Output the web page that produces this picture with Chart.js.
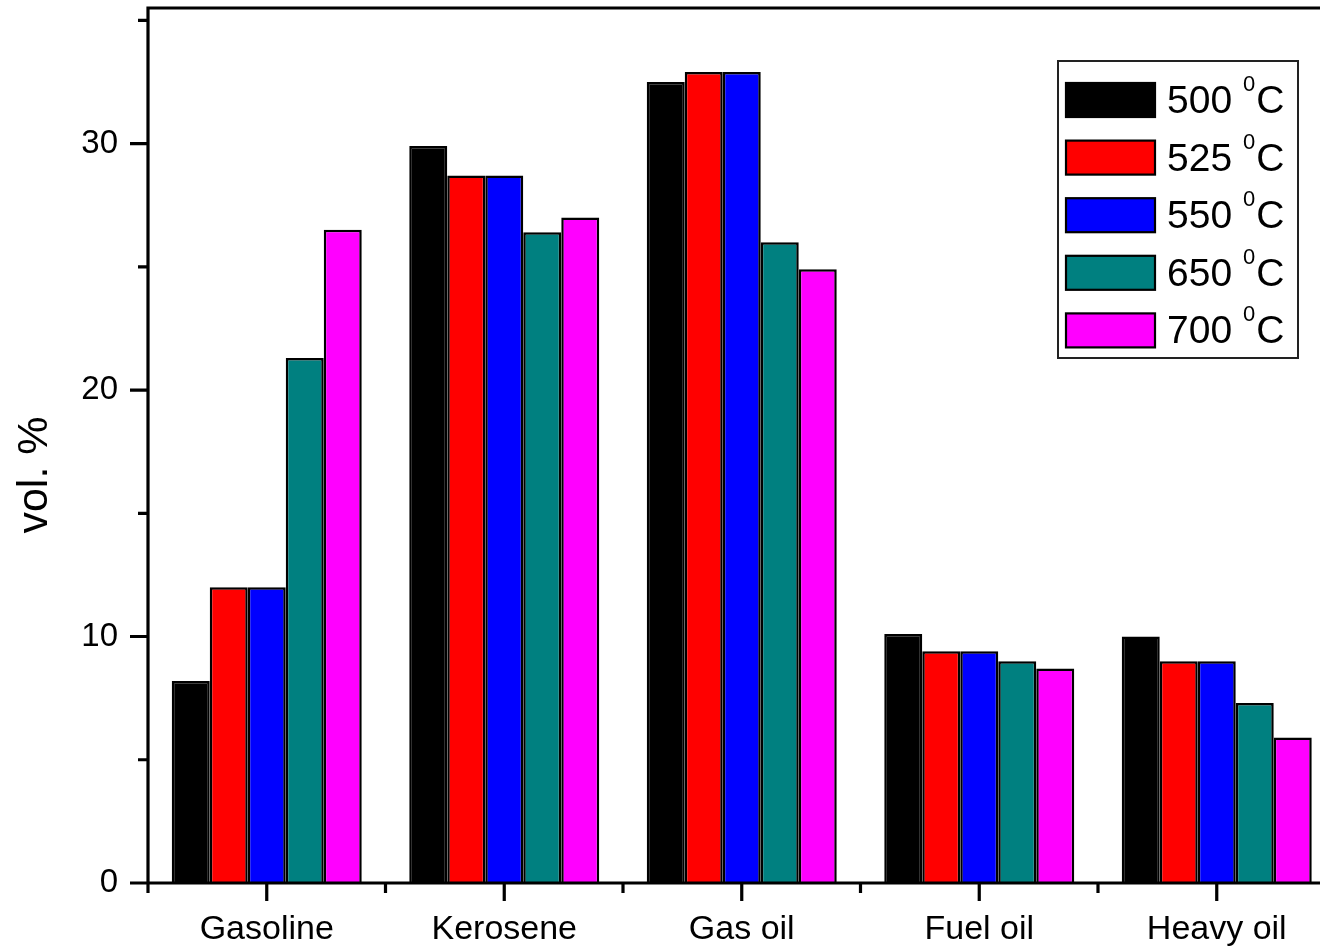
<!DOCTYPE html>
<html>
<head>
<meta charset="utf-8">
<title>vol. %</title>
<script src="https://cdn.jsdelivr.net/npm/chart.js@4.4.1/dist/chart.umd.min.js"></script>
<style>
  html, body { margin: 0; padding: 0; background: #fff; overflow: hidden; }
  #wrap { width: 1340px; height: 952px; }
</style>
</head>
<body>
<div id="wrap"><canvas id="chart" width="1340" height="952"></canvas></div>
<script>
// data
const categories = ["Gasoline", "Kerosene", "Gas oil", "Fuel oil", "Heavy oil"];
const temperatures = [500, 525, 550, 650, 700];
const values500 = [8.2, 29.9, 32.5, 10.1, 10.0];
const values525 = [12.0, 28.7, 32.9, 9.4, 9.0];
const values550 = [12.0, 28.7, 32.9, 9.4, 9.0];
const values650 = [21.3, 26.4, 26.0, 9.0, 7.3];
const values700 = [26.5, 27.0, 24.9, 8.7, 5.9];
const seriesColors = ["#000000", "#ff0000", "#0000ff", "#008080", "#ff00ff"];
const yTicks = [0, 10, 20, 30];
const yMinorTicks = [5, 15, 25, 35];
const yMax = 35.5;
const yTitle = "vol. %";

const FONT = "'Liberation Sans', Arial, Helvetica, sans-serif";
const allValues = [values500, values525, values550, values650, values700];

const datasets = allValues.map((vals, i) => ({
  label: temperatures[i] + " \u00B0C",
  data: vals,
  backgroundColor: seriesColors[i],
  borderColor: "#000",
  borderWidth: 2.5,
  categoryPercentage: 0.8,
  barPercentage: 1.0
}));

// axes, ticks, frame, y title and legend box
const framePlugin = {
  id: "frame",
  afterDraw(chart) {
    const ctx = chart.ctx;
    const area = chart.chartArea;
    const xs = chart.scales.x;
    const ys = chart.scales.y;
    ctx.save();
    ctx.strokeStyle = "#000";
    ctx.lineWidth = 3.2;
    ctx.lineCap = "butt";
    ctx.beginPath();
    ctx.moveTo(area.left - 1.5, area.top);
    ctx.lineTo(chart.width, area.top);
    ctx.moveTo(area.left, area.top - 1.5);
    ctx.lineTo(area.left, area.bottom + 1.5);
    ctx.moveTo(area.left, area.bottom);
    ctx.lineTo(chart.width, area.bottom);
    yTicks.forEach(v => {
      const p = ys.getPixelForValue(v);
      ctx.moveTo(area.left - 18, p);
      ctx.lineTo(area.left, p);
    });
    yMinorTicks.forEach(v => {
      const p = ys.getPixelForValue(v);
      ctx.moveTo(area.left - 10, p);
      ctx.lineTo(area.left, p);
    });
    categories.forEach((c, i) => {
      const p = xs.getPixelForValue(i);
      ctx.moveTo(p, area.bottom);
      ctx.lineTo(p, area.bottom + 18);
    });
    for (let i = 0; i <= categories.length; i++) {
      const p = xs.getPixelForValue(i - 0.5);
      ctx.moveTo(p, area.bottom);
      ctx.lineTo(p, area.bottom + 10);
    }
    ctx.stroke();

    // y axis title
    ctx.save();
    ctx.translate(35, 475);
    ctx.rotate(-Math.PI / 2);
    ctx.fillStyle = "#000";
    ctx.font = "43px " + FONT;
    ctx.textAlign = "center";
    ctx.textBaseline = "middle";
    ctx.fillText(yTitle, 0, 0);
    ctx.restore();

    // legend
    const bx = 1058, by = 61, bw = 240, bh = 297;
    ctx.fillStyle = "#fff";
    ctx.fillRect(bx, by, bw, bh);
    ctx.lineWidth = 2;
    ctx.strokeStyle = "#222";
    ctx.strokeRect(bx, by, bw, bh);
    temperatures.forEach((t, i) => {
      const sy = 83 + i * 57.6;
      ctx.fillStyle = seriesColors[i];
      ctx.fillRect(1066, sy, 89, 34);
      ctx.lineWidth = 2.2;
      ctx.strokeStyle = "#000";
      ctx.strokeRect(1066, sy, 89, 34);
      const base = sy + 30;
      ctx.fillStyle = "#000";
      ctx.textAlign = "left";
      ctx.textBaseline = "alphabetic";
      ctx.font = "39px " + FONT;
      let tx = 1167;
      const main = t + " ";
      ctx.fillText(main, tx, base);
      tx += ctx.measureText(main).width;
      ctx.font = "22px " + FONT;
      ctx.fillText("0", tx, base - 22);
      tx += ctx.measureText("0").width + 1;
      ctx.font = "39px " + FONT;
      ctx.fillText("C", tx, base);
    });
    ctx.restore();
  }
};

new Chart(document.getElementById("chart").getContext("2d"), {
  type: "bar",
  data: { labels: categories, datasets: datasets },
  options: {
    responsive: false,
    animation: false,
    events: [],
    layout: { padding: { top: 8, right: 4.5, left: 0, bottom: 0 } },
    plugins: { legend: { display: false }, tooltip: { enabled: false } },
    scales: {
      x: {
        grid: { display: true, drawOnChartArea: false, drawTicks: true, tickLength: 18, color: "rgba(0,0,0,0)" },
        border: { display: false },
        ticks: { color: "#000", padding: 8, font: { family: FONT, size: 34 }, maxRotation: 0 },
        afterFit(scale) { scale.height = 69; scale.paddingLeft = 0; scale.paddingRight = 0; }
      },
      y: {
        min: 0,
        max: yMax,
        grid: { display: true, drawOnChartArea: false, drawTicks: true, tickLength: 18, color: "rgba(0,0,0,0)" },
        border: { display: false },
        ticks: {
          stepSize: 5,
          includeBounds: false,
          color: "#000",
          padding: 12,
          font: { family: FONT, size: 33 },
          callback: v => (yTicks.includes(v) ? v : "")
        },
        afterFit(scale) { scale.width = 148; scale.paddingTop = 0; scale.paddingBottom = 0; }
      }
    }
  },
  plugins: [framePlugin]
});
</script>
</body>
</html>
